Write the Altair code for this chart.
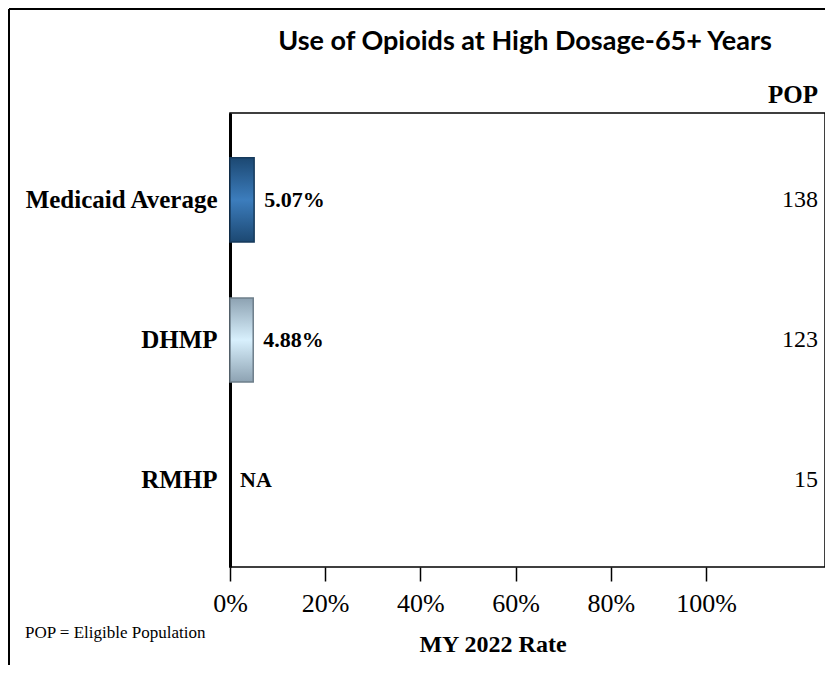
import altair as alt
import pandas as pd

plans = ["Medicaid Average", "DHMP", "RMHP"]
rates = [5.07, 4.88, None]          # percent
rate_labels = ["5.07%", "4.88%", "NA"]
pops = [138, 123, 15]
x_ticks = [0, 0.2, 0.4, 0.6, 0.8, 1.0]

title_text = "Use of Opioids at High Dosage-65+ Years"
x_title = "MY 2022 Rate"
footnote = "POP = Eligible Population"

df = pd.DataFrame({
    "plan": plans,
    "rate": [r / 100 if r is not None else None for r in rates],
    "label": rate_labels,
    "pop": pops,
})
df["labelx"] = df["rate"].fillna(0)

SERIF = "'Liberation Serif', 'Times New Roman', 'DejaVu Serif', serif"
W, H = 595, 454

y_enc = alt.Y("plan:N", sort=plans, title=None,
              scale=alt.Scale(paddingInner=0.4, paddingOuter=0.32),
              axis=alt.Axis(labelFont=SERIF, labelFontSize=25, labelFontWeight="bold",
                            labelColor="black", labelPadding=13, ticks=False,
                            domainColor="black", domainWidth=3, labelLimit=400))
x_scale = alt.Scale(domain=[0, 1.25], nice=False)
x_axis = alt.Axis(values=x_ticks, format=".0%", labelFont=SERIF, labelFontSize=26,
                  labelFontWeight="normal",
                  labelColor="black", tickColor="black", tickWidth=1.5, tickSize=14,
                  labelPadding=9, labelFlush=False, domain=False, grid=False, title=None)

base = alt.Chart(df)

def grad(edge, mid):
    return alt.Gradient(gradient="linear", x1=0, x2=0, y1=0, y2=1,
                        stops=[alt.GradientStop(color=edge, offset=0),
                               alt.GradientStop(color=mid, offset=0.5),
                               alt.GradientStop(color=edge, offset=1)])

bar1 = base.transform_filter(alt.datum.plan == "Medicaid Average").mark_bar(
    color=grad("#1c4872", "#3c7dbd"), stroke="#163a5c", strokeWidth=1.5
).encode(x=alt.X("rate:Q", scale=x_scale, axis=x_axis), y=y_enc)

bar2 = base.transform_filter(alt.datum.plan == "DHMP").mark_bar(
    color=grad("#8da2b2", "#d8f0fd"), stroke="#6e7f8b", strokeWidth=1.5
).encode(x=alt.X("rate:Q", scale=x_scale, axis=x_axis), y=y_enc)

rate_text = base.mark_text(align="left", baseline="middle", dx=10, font=SERIF,
                           fontSize=22, fontWeight="bold", color="black").encode(
    x=alt.X("labelx:Q", scale=x_scale, axis=x_axis), y=y_enc, text="label:N")

pop_text = base.mark_text(align="right", baseline="middle", font=SERIF,
                          fontSize=24, fontWeight="normal", color="black").encode(
    x=alt.value(588), y=y_enc, text="pop:Q")

one = alt.Chart(pd.DataFrame({"a": [0]}))

pop_header = one.mark_text(align="right", baseline="middle", font=SERIF, fontSize=25,
                           fontWeight="bold", color="black").encode(
    x=alt.value(588), y=alt.value(-18), text=alt.value("POP"))

title = one.mark_text(align="center", baseline="alphabetic", font="Lato", fontSize=27,
                      fontWeight="bold", color="black").encode(
    x=alt.value(295), y=alt.value(-63), text=alt.value(title_text))

xtitle = one.mark_text(align="center", baseline="middle", font=SERIF, fontSize=24,
                       fontWeight="bold", color="black").encode(
    x=alt.value(263), y=alt.value(532), text=alt.value(x_title))

foot = one.mark_text(align="left", baseline="middle", font=SERIF, fontSize=17,
                     fontWeight="normal", color="black").encode(
    x=alt.value(-205), y=alt.value(520), text=alt.value(footnote))

frame_left = one.mark_rule(color="black", strokeWidth=2).encode(
    x=alt.value(-221), y=alt.value(-104), y2=alt.value(570))
frame_top = one.mark_rule(color="black", strokeWidth=2).encode(
    x=alt.value(-221), x2=alt.value(610), y=alt.value(-104))

chart = alt.layer(
    bar1, bar2, rate_text, pop_text, pop_header, title, xtitle, foot, frame_left, frame_top
).properties(
    width=W, height=H,
    autosize=alt.AutoSizeParams(type="none"),
    padding={"left": 222, "top": 105, "right": 0, "bottom": 98},
).configure(
    background="white", font=SERIF
).configure_view(
    stroke="black", strokeWidth=1.5
).configure_axis(labelFont=SERIF)

chart.save("out.html", embed_options={"renderer": "svg", "actions": False})
